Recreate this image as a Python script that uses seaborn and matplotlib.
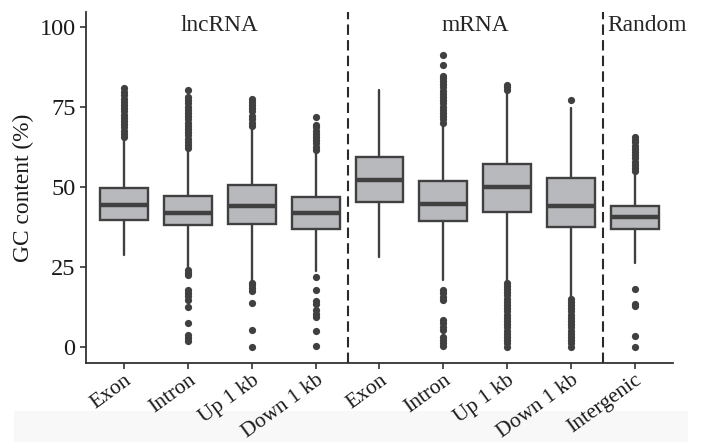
import numpy as np
import pandas as pd
import matplotlib
matplotlib.use("Agg")
import matplotlib.pyplot as plt
import seaborn as sns

sns.set_theme(style="ticks")
plt.rcParams["font.family"] = ["Liberation Serif", "DejaVu Serif"]

# categories (keys unique, labels repeat across groups)
keys = ["lnc_exon", "lnc_intron", "lnc_up", "lnc_down",
        "m_exon", "m_intron", "m_up", "m_down", "rand_inter"]
tick_labels = ["Exon", "Intron", "Up 1 kb", "Down 1 kb",
               "Exon", "Intron", "Up 1 kb", "Down 1 kb", "Intergenic"]
groups = ["lncRNA", "mRNA", "Random"]

# box statistics (GC %)
q1 = [39.6, 38.0, 38.3, 36.7, 45.1, 39.1, 42.2, 37.3, 36.7]
median = [44.1, 41.6, 43.9, 41.6, 52.2, 44.5, 50.0, 43.9, 40.4]
q3 = [49.7, 47.1, 50.5, 46.8, 59.4, 51.8, 57.1, 52.6, 44.0]
whisker_lo = [28.7, 24.5, 20.5, 23.5, 28.1, 20.8, 20.5, 15.5, 26.0]
whisker_hi = [64.6, 61.0, 68.5, 60.5, 80.2, 69.5, 79.5, 74.5, 54.2]

# outliers
out_lnc_exon = [65.5, 66.5, 67.5, 68.5, 69.5, 70.5, 71.5, 72.5, 73.5, 74.5,
                75.5, 76.5, 77.5, 78.5, 79.5, 80.7]
out_lnc_intron = [62, 63, 64, 65, 66, 67, 68, 69, 70, 71, 72, 73, 74, 75, 76,
                  77, 78, 80.2,
                  24.0, 23.0, 22.3, 17.7, 16.7, 15.7, 14.6, 12.5, 7.3, 3.6,
                  2.6, 1.8]
out_lnc_up = [69, 70, 71, 72, 73.5, 74.5, 75.5, 76.5, 77.3,
              20.0, 19.2, 18.3, 17.4, 13.6, 5.2, 0.0]
out_lnc_down = [61.5, 62.5, 63.5, 64.5, 65.5, 66.5, 67.5, 68.5, 69.3, 71.9,
                21.9, 17.7, 14.3, 13.3, 11.3, 10.2, 9.1, 4.9, 0.3]
out_m_exon = []
out_m_intron = [70, 71, 72, 73, 74, 75, 76, 77, 78, 79, 80, 81, 82, 83, 84,
                84.6, 88.1, 91.2,
                17.7, 16.7, 15.6, 14.6, 8.3, 7.3, 6.2, 5.2, 3.1, 2.1, 1.0, 0.2]
out_m_up = [80.2, 81.0, 81.8,
            20, 19, 18, 17, 16, 15, 14, 13, 12, 11, 10, 9, 8, 7, 6, 5, 4,
            3, 2, 1, 0]
out_m_down = [77.1,
              15, 14, 13, 12, 11, 10, 9, 8, 7, 6, 5, 4, 3, 2, 1, 0]
out_rand_inter = [54.8, 55.8, 56.8, 57.8, 58.8, 59.8, 60.8, 61.8, 62.8, 63.8,
                  64.6, 65.6,
                  17.9, 13.4, 12.6, 3.3, 0.0]

outliers = [out_lnc_exon, out_lnc_intron, out_lnc_up, out_lnc_down,
            out_m_exon, out_m_intron, out_m_up, out_m_down, out_rand_inter]

out_df = pd.DataFrame({
    "set": [k for k, vals in zip(keys, outliers) for _ in vals],
    "gc": [v for vals in outliers for v in vals],
})

edge = "#404040"
fill = "#b8b9bd"

fig = plt.figure(figsize=(7.02, 4.42), dpi=100)
# faint scan band at the bottom of the original, kept behind everything
fig.patches.append(plt.Rectangle((0.02, 0.0), 0.96, 0.07, transform=fig.transFigure,
                                 facecolor="#f8f8f8", edgecolor="none", zorder=-5))
ax = fig.add_axes([0.1225, 0.179, 0.836, 0.794])
ax.set_facecolor("none")

sns.stripplot(data=out_df, x="set", y="gc", order=keys, jitter=False,
              color=edge, size=5.2, linewidth=0, ax=ax, zorder=3)

stats = []
for i in range(len(keys)):
    stats.append({"med": median[i], "q1": q1[i], "q3": q3[i],
                  "whislo": whisker_lo[i], "whishi": whisker_hi[i],
                  "fliers": []})

ax.bxp(stats, positions=range(len(keys)), widths=0.75, showcaps=False,
       showfliers=False, patch_artist=True, manage_ticks=False,
       boxprops=dict(facecolor=fill, edgecolor=edge, linewidth=1.7),
       medianprops=dict(color=edge, linewidth=3.2, solid_capstyle="butt"),
       whiskerprops=dict(color=edge, linewidth=1.7))

for xd in [3.5, 7.5]:
    ax.axvline(xd, color="#2a2a2a", linewidth=1.5, linestyle=(0, (5, 2.5)))

ax.text(1.5, 100.5, groups[0], ha="center", va="center", fontsize=16.8)
ax.text(5.5, 100.5, groups[1], ha="center", va="center", fontsize=16.8)
ax.text(7.57, 100.5, groups[2], ha="left", va="center", fontsize=16.8)

ax.set_xlim(-0.6, 8.6)
ax.set_ylim(-5.1, 104.6)
ax.set_yticks([0, 25, 50, 75, 100])
ax.set_xticks(range(len(keys)))
ax.set_xticklabels(tick_labels, rotation=36, ha="right", va="top",
                   rotation_mode="anchor", fontsize=15.5)
ax.tick_params(axis="y", labelsize=17.5)
ax.tick_params(axis="x", pad=1.5)
ax.tick_params(length=4, width=1.2, color="#333333", labelcolor="#1a1a1a")
ax.set_xlabel("")
ax.set_ylabel("GC content (%)", fontsize=16.8, color="#1a1a1a")
for side in ["left", "bottom"]:
    ax.spines[side].set_color("#333333")
    ax.spines[side].set_linewidth(1.3)
sns.despine(ax=ax)

fig.savefig("out.png", dpi=100)
